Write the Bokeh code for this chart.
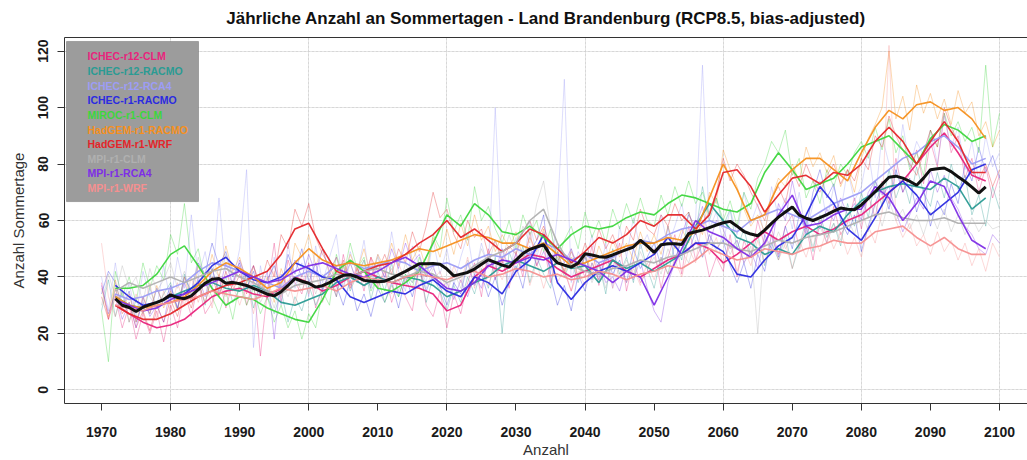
from bokeh.plotting import figure
from bokeh.models import LinearAxis, FixedTicker, Range1d, Grid, BoxAnnotation, Label
from bokeh.embed import file_html
from bokeh.resources import INLINE

TITLE = "Jährliche Anzahl an Sommertagen - Land Brandenburg (RCP8.5, bias-adjusted)"
X_LABEL = "Anzahl"
Y_LABEL = "Anzahl Sommertage"

MODELS = ["ICHEC-r12-CLM", "ICHEC-r12-RACMO", "ICHEC-r12-RCA4", "ICHEC-r1-RACMO",
          "MIROC-r1-CLM", "HadGEM-r1-RACMO", "HadGEM-r1-WRF", "MPI-r1-CLM",
          "MPI-r1-RCA4", "MPI-r1-WRF"]
COLORS = ["#E8247C", "#2B9B93", "#9C9CF5", "#2B2BE0", "#3DD63D",
          "#F5901E", "#E4262A", "#B0B0B0", "#7E2EE6", "#F59090"]

ANNUAL_START = 1970   # yearly values 1970..2100
SMOOTH_START = 1972   # running mean, every 2nd year 1972..2098
SMOOTH_STEP = 2
ENS_START = 1972      # ensemble mean, yearly 1972..2098

XTICKS = list(range(1970, 2101, 10))
YTICKS = [0, 20, 40, 60, 80, 100, 120]
XGRID = list(range(1980, 2101, 20))

# ---------------- yearly values (faint lines) ----------------
annual_ichec_r12_clm = [
    38, 25, 33, 22, 30, 18, 27, 20, 28, 17,
    30, 22, 35, 26, 38, 27, 31, 40, 29, 38,
    44, 30, 39, 12, 35, 52, 31, 46, 38, 34,
    45, 29, 36, 41, 33, 48, 37, 44, 35, 47,
    36, 42, 31, 39, 33, 28, 44, 30, 26, 35,
    22, 34, 27, 38, 45, 33, 50, 39, 47, 36,
    49, 40, 56, 44, 52, 38, 49, 42, 35, 45,
    40, 51, 37, 48, 43, 52, 35, 46, 38, 42,
    50, 36, 47, 55, 41, 58, 46, 52, 40, 47,
    42, 55, 40, 53, 47, 60, 51, 57, 48, 58,
    62, 50, 58, 46, 60, 52, 65, 55, 59, 68,
    57, 69, 61, 74, 66, 82, 70, 77, 85, 73,
    88, 79, 98, 84, 90, 75, 82, 70, 79, 68, 76]
annual_ichec_r12_racmo = [
    28, 39, 26, 35, 24, 32, 27, 36, 29, 34,
    38, 28, 41, 33, 39, 30, 43, 34, 40, 31,
    36, 41, 29, 38, 33, 27, 35, 24, 33, 28,
    37, 30, 36, 40, 33, 44, 35, 41, 46, 32,
    42, 35, 45, 33, 41, 38, 44, 31, 40, 35,
    28, 37, 31, 40, 34, 43, 36, 47, 20, 49,
    42, 51, 38, 47, 41, 36, 49, 40, 46, 38,
    48, 39, 45, 34, 50, 41, 47, 38, 52, 43,
    36, 47, 41, 52, 46, 63, 55, 72, 60, 68,
    58, 64, 50, 57, 47, 55, 44, 52, 46, 55,
    43, 51, 60, 49, 62, 54, 59, 51, 66, 58,
    70, 61, 74, 65, 78, 68, 75, 66, 79, 70,
    65, 77, 68, 80, 71, 76, 62, 69, 58, 72, 64]
annual_ichec_r12_rca4 = [
    40, 28, 45, 30, 38, 26, 42, 33, 29, 44,
    31, 47, 36, 62, 40, 49, 35, 68, 41, 38,
    50, 78, 15, 44, 32, 47, 30, 52, 36, 45,
    33, 51, 38, 47, 55, 36, 49, 41, 53, 37,
    48, 39, 56, 42, 35, 51, 44, 38, 53, 41,
    50, 37, 47, 55, 40, 52, 43, 100, 45, 39,
    54, 42, 60, 47, 56, 41, 62, 110, 38, 49,
    44, 55, 40, 52, 36, 58, 47, 61, 50, 55,
    48, 62, 51, 58, 66, 53, 60, 115, 57, 63,
    52, 64, 55, 70, 59, 66, 54, 72, 61, 68,
    57, 70, 55, 66, 74, 60, 72, 63, 78, 67,
    72, 85, 68, 90, 80, 76, 94, 79, 88, 83,
    92, 80, 97, 86, 93, 78, 88, 74, 90, 79, 84]
annual_ichec_r1_racmo = [
    34, 42, 38, 29, 35, 24, 31, 27, 36, 30,
    37, 29, 40, 35, 45, 41, 52, 44, 49, 40,
    45, 36, 42, 33, 39, 44, 36, 48, 41, 50,
    38, 45, 35, 42, 37, 30, 39, 28, 34, 26,
    36, 31, 38, 29, 40, 33, 43, 35, 41, 37,
    30, 38, 34, 45, 37, 41, 33, 40, 30, 38,
    44, 36, 49, 53, 62, 40, 30, 37, 28, 41,
    35, 45, 39, 48, 41, 46, 38, 50, 43, 47,
    52, 44, 58, 46, 53, 49, 56, 47, 55, 50,
    53, 44, 38, 45, 36, 48, 42, 55, 47, 58,
    50, 62, 57, 70, 78, 68, 73, 60, 55, 62,
    49, 58, 66, 72, 64, 78, 70, 75, 63, 71,
    58, 67, 62, 73, 66, 80, 74, 86, 77, 83, 75]
annual_miroc_r1_clm = [
    28, 10, 42, 33, 40, 31, 45, 36, 44, 39,
    55, 48, 66, 45, 50, 38, 33, 27, 35, 25,
    38, 30, 36, 27, 33, 24, 30, 22, 28, 18,
    27, 22, 35, 30, 48, 40, 52, 43, 47, 35,
    40, 31, 37, 33, 41, 36, 47, 40, 55, 50,
    68, 56, 62, 53, 72, 60, 65, 57, 52, 60,
    50, 62, 55, 60, 49, 57, 45, 53, 58, 50,
    63, 54, 60, 52, 64, 57, 66, 59, 68, 60,
    58, 69, 62, 72, 65, 74, 66, 70, 62, 68,
    60, 67, 58, 70, 64, 75, 80, 88, 84, 92,
    76, 82, 68, 74, 66, 78, 72, 80, 76, 84,
    88, 82, 93, 85, 96, 84, 90, 78, 84, 76,
    92, 86, 98, 90, 95, 88, 93, 84, 115, 86, 98]
annual_hadgem_r1_racmo = [
    36, 26, 39, 28, 34, 24, 33, 27, 37, 29,
    35, 28, 40, 31, 44, 37, 48, 40, 51, 42,
    47, 38, 44, 34, 40, 31, 43, 36, 52, 47,
    55, 44, 50, 41, 47, 39, 48, 42, 50, 40,
    48, 43, 52, 44, 55, 46, 51, 43, 54, 47,
    57, 48, 59, 51, 62, 53, 58, 49, 55, 50,
    56, 47, 54, 49, 57, 45, 50, 41, 47, 40,
    48, 42, 51, 45, 53, 47, 52, 46, 56, 49,
    55, 48, 58, 50, 57, 52, 60, 55, 70, 66,
    85, 78, 72, 64, 58, 62, 56, 68, 75, 72,
    80, 74, 86, 79, 84, 77, 83, 72, 78, 70,
    82, 89, 94, 100, 120, 96, 104, 92, 108, 98,
    105, 96, 103, 94, 106, 98, 102, 90, 95, 86, 92]
annual_hadgem_r1_wrf = [
    33, 25, 36, 27, 31, 22, 28, 21, 30, 24,
    32, 26, 35, 29, 38, 31, 40, 33, 42, 35,
    41, 34, 44, 37, 46, 40, 55, 50, 64, 58,
    66, 54, 48, 44, 38, 46, 36, 43, 39, 47,
    42, 48, 41, 50, 45, 56, 49, 58, 70, 61,
    64, 55, 50, 60, 54, 57, 48, 53, 45, 51,
    48, 56, 60, 53, 58, 51, 47, 42, 49, 44,
    52, 46, 57, 50, 55, 48, 58, 53, 64, 57,
    55, 62, 58, 66, 60, 63, 55, 59, 63, 70,
    82, 74, 80, 76, 70, 65, 60, 68, 72, 66,
    78, 72, 80, 74, 70, 76, 80, 73, 78, 74,
    82, 78, 90, 86, 97, 90, 85, 80, 76, 84,
    92, 86, 100, 93, 88, 82, 78, 74, 80, 72, 78]
annual_mpi_r1_clm = [
    30, 41, 33, 44, 36, 40, 31, 43, 35, 39,
    45, 36, 42, 34, 47, 39, 44, 40, 48, 37,
    43, 35, 39, 31, 36, 29, 38, 33, 40, 35,
    42, 34, 41, 37, 44, 36, 45, 38, 46, 40,
    47, 39, 43, 35, 45, 38, 44, 36, 43, 39,
    34, 42, 36, 46, 41, 50, 44, 53, 46, 55,
    48, 58, 52, 66, 74, 57, 46, 42, 50, 39,
    45, 38, 44, 36, 47, 40, 46, 41, 49, 43,
    47, 41, 50, 44, 49, 45, 53, 47, 55, 49,
    55, 48, 53, 45, 51, 20, 54, 49, 56, 50,
    55, 49, 57, 51, 58, 52, 59, 53, 61, 55,
    64, 56, 66, 58, 67, 60, 64, 57, 62, 55,
    63, 57, 64, 56, 62, 55, 61, 56, 60, 57, 58]
annual_mpi_r1_rca4 = [
    37, 27, 34, 25, 31, 22, 33, 26, 30, 24,
    36, 29, 38, 31, 40, 33, 43, 35, 45, 37,
    46, 39, 44, 35, 42, 18, 41, 36, 46, 40,
    48, 41, 50, 42, 47, 39, 45, 38, 43, 36,
    45, 40, 50, 43, 52, 45, 48, 40, 44, 36,
    38, 32, 39, 33, 41, 36, 47, 42, 50, 43,
    48, 42, 51, 44, 49, 43, 52, 45, 50, 43,
    47, 41, 45, 38, 40, 35, 44, 39, 46, 36,
    28, 24, 38, 45, 55, 62, 58, 65, 52, 60,
    57, 50, 53, 45, 49, 43, 55, 50, 66, 60,
    74, 63, 55, 60, 57, 64, 60, 68, 62, 66,
    60, 70, 74, 69, 72, 63, 56, 62, 68, 64,
    78, 70, 76, 68, 64, 58, 55, 50, 48, 55, 52]
annual_mpi_r1_wrf = [
    52, 33, 26, 36, 24, 34, 27, 38, 25, 35,
    28, 38, 30, 40, 31, 39, 29, 41, 33, 37,
    30, 38, 27, 40, 32, 42, 33, 39, 30, 41,
    34, 42, 31, 40, 35, 44, 36, 41, 38, 45,
    37, 43, 34, 45, 38, 46, 36, 44, 39, 42,
    35, 44, 38, 47, 36, 45, 37, 44, 39, 46,
    40, 48, 37, 45, 36, 44, 38, 43, 35, 42,
    37, 45, 39, 46, 36, 44, 38, 43, 37, 45,
    39, 47, 41, 46, 40, 50, 45, 60, 48, 54,
    44, 52, 42, 50, 44, 53, 45, 55, 46, 52,
    43, 53, 47, 55, 49, 57, 50, 56, 48, 54,
    47, 58, 52, 63, 122, 60, 54, 59, 51, 55,
    48, 56, 49, 53, 46, 52, 44, 50, 42, 52, 47]

# ---------------- running means (bold coloured lines), 1972..2098 step 2 ----------------
smooth_ichec_r12_clm = [30, 27, 24, 22, 23, 25, 29, 33, 35, 36, 34, 33, 36, 40,
                        38, 35, 37, 40, 42, 40, 38, 37, 36, 34, 28, 30, 40, 44, 42,
                        45, 48, 47, 43, 40, 42, 44, 46, 42, 40, 43, 46, 48, 52, 50,
                        45, 48, 52, 56, 53, 56, 58, 55, 57, 60, 62, 66, 70, 74, 80,
                        86, 91, 84, 76, 74]
smooth_ichec_r12_racmo = [33, 30, 29, 31, 33, 35, 37, 38, 36, 35, 37, 35, 31, 30,
                          32, 34, 38, 40, 37, 40, 38, 40, 39, 37, 33, 35, 38, 40, 44,
                          46, 44, 42, 45, 43, 44, 38, 46, 43, 45, 42, 45, 48, 58, 66,
                          60, 54, 52, 48, 50, 48, 55, 58, 56, 62, 67, 70, 72, 73, 72,
                          71, 75, 72, 64, 68]
smooth_ichec_r12_rca4 = [34, 32, 33, 35, 36, 38, 42, 45, 44, 42, 40, 38, 36, 40,
                         42, 40, 44, 45, 43, 44, 46, 45, 42, 44, 45, 43, 46, 48, 47,
                         50, 48, 52, 50, 46, 48, 45, 47, 50, 53, 52, 55, 57, 58, 60,
                         58, 56, 60, 62, 64, 62, 60, 63, 66, 68, 70, 74, 78, 82, 84,
                         88, 90, 86, 80, 82]
smooth_ichec_r1_racmo = [37, 33, 30, 31, 33, 34, 38, 44, 47, 42, 39, 38, 40, 45,
                         43, 40, 39, 33, 31, 33, 35, 34, 37, 39, 35, 33, 40, 38, 34,
                         42, 46, 55, 38, 32, 38, 42, 44, 42, 45, 48, 54, 48, 52, 52,
                         49, 41, 40, 46, 51, 54, 62, 72, 66, 57, 53, 61, 70, 74, 69,
                         62, 66, 70, 78, 80]
smooth_miroc_r1_clm = [36, 36, 37, 41, 48, 51, 44, 36, 30, 33, 32, 29, 27, 25,
                       24, 32, 42, 46, 42, 36, 35, 38, 42, 52, 62, 58, 66, 62, 56,
                       55, 58, 54, 50, 55, 58, 57, 58, 61, 63, 62, 66, 69, 68, 66,
                       64, 63, 66, 77, 84, 78, 71, 73, 75, 80, 86, 88, 90, 85, 80,
                       89, 94, 92, 88, 90]
smooth_hadgem_r1_racmo = [33, 30, 29, 30, 31, 33, 37, 42, 45, 43, 40, 36, 38, 45,
                          50, 46, 44, 45, 44, 45, 46, 48, 50, 49, 51, 53, 55, 54, 52,
                          52, 50, 52, 48, 44, 45, 47, 49, 51, 52, 52, 54, 53, 56, 68,
                          80, 71, 60, 62, 73, 78, 82, 82, 78, 74, 84, 93, 99, 96, 101,
                          102, 99, 100, 96, 89]
smooth_hadgem_r1_wrf = [30, 27, 25, 25, 27, 30, 33, 35, 37, 38, 40, 42, 48, 57,
                        59, 50, 42, 40, 42, 44, 45, 48, 52, 55, 60, 54, 57, 53, 49,
                        52, 57, 55, 50, 45, 49, 54, 52, 55, 60, 58, 62, 62, 57, 62,
                        77, 78, 72, 63, 69, 75, 76, 73, 77, 76, 80, 88, 93, 88, 80,
                        88, 95, 88, 77, 77]
smooth_mpi_r1_clm = [35, 38, 36, 38, 40, 38, 40, 42, 43, 40, 38, 35, 34, 37,
                     38, 39, 41, 40, 42, 43, 41, 40, 42, 41, 38, 40, 44, 47, 49,
                     52, 60, 64, 52, 44, 42, 41, 43, 44, 46, 45, 47, 48, 50, 52,
                     52, 50, 49, 51, 53, 52, 54, 55, 56, 58, 60, 62, 63, 61, 60,
                     60, 61, 59, 59, 59]
smooth_mpi_r1_rca4 = [32, 30, 28, 29, 32, 34, 36, 38, 40, 42, 40, 38, 39, 42,
                      44, 45, 43, 41, 40, 42, 45, 47, 44, 40, 36, 35, 38, 44, 46,
                      45, 47, 46, 48, 46, 44, 42, 38, 42, 40, 30, 40, 50, 60, 56,
                      54, 50, 47, 52, 62, 69, 58, 59, 62, 64, 64, 72, 68, 60, 66,
                      74, 72, 62, 53, 50]
smooth_mpi_r1_wrf = [30, 29, 28, 30, 31, 32, 33, 35, 34, 33, 32, 34, 36, 35,
                     36, 37, 35, 38, 40, 39, 38, 40, 41, 40, 39, 41, 42, 40, 41,
                     43, 42, 40, 41, 39, 40, 42, 41, 39, 41, 42, 44, 43, 46, 50,
                     48, 46, 47, 50, 49, 48, 50, 51, 53, 52, 52, 56, 57, 58, 54,
                     51, 54, 50, 48, 48]

# ---------------- ensemble mean (black), yearly 1972..2098 ----------------
ensemble_mean = [
    32.3, 30.0, 29.2, 27.8, 29.3, 30.2, 31.0, 32.0,
    33.7, 32.7, 32.3, 33.3, 35.5, 37.8, 39.2, 39.5, 37.8, 38.1,
    37.6, 37.0, 36.0, 35.0, 33.9, 33.3, 34.8, 37.0, 39.4, 38.5,
    37.8, 36.4, 36.9, 38.0, 39.4, 40.6, 40.8, 40.0, 38.8, 38.5,
    38.3, 38.5, 39.5, 40.8, 42.0, 43.3, 44.7, 44.7, 44.8, 44.5,
    42.8, 40.4, 41.0, 41.6, 42.8, 44.5, 46.1, 45.2, 44.2, 43.5,
    46.0, 48.3, 49.8, 50.6, 51.4, 47.5, 45.0, 44.2, 43.5, 44.9,
    48.2, 47.8, 47.2, 47.0, 47.8, 48.8, 49.7, 50.6, 53.0, 51.0,
    48.7, 51.4, 51.8, 51.8, 51.5, 55.4, 56.0, 56.6, 57.5, 58.4,
    59.2, 59.7, 58.0, 56.1, 55.2, 54.6, 56.6, 59.0, 61.2, 63.0,
    64.8, 61.9, 60.8, 60.0, 61.0, 62.1, 63.3, 64.4, 64.0, 63.8,
    65.5, 67.8, 70.2, 72.8, 75.3, 75.7, 75.0, 73.9, 72.5, 75.0,
    78.0, 78.3, 78.6, 77.3, 75.5, 73.8, 71.8, 69.7, 71.9]

ANNUAL = [annual_ichec_r12_clm, annual_ichec_r12_racmo, annual_ichec_r12_rca4,
          annual_ichec_r1_racmo, annual_miroc_r1_clm, annual_hadgem_r1_racmo,
          annual_hadgem_r1_wrf, annual_mpi_r1_clm, annual_mpi_r1_rca4, annual_mpi_r1_wrf]
SMOOTH = [smooth_ichec_r12_clm, smooth_ichec_r12_racmo, smooth_ichec_r12_rca4,
          smooth_ichec_r1_racmo, smooth_miroc_r1_clm, smooth_hadgem_r1_racmo,
          smooth_hadgem_r1_wrf, smooth_mpi_r1_clm, smooth_mpi_r1_rca4, smooth_mpi_r1_wrf]

FONT = "Liberation Sans"
TEXT_DARK = "#1a1a1a"

p = figure(width=1027, height=460,
           x_range=Range1d(1964.64, 2104.05), y_range=Range1d(-4.8, 124.8),
           output_backend="svg", toolbar_location=None,
           x_axis_location=None, y_axis_location=None,
           min_border_left=64, min_border_right=0, min_border_top=37, min_border_bottom=57)
p.outline_line_color = None
p.background_fill_color = "white"
p.border_fill_color = "white"

# grids (dotted)
p.add_layout(Grid(dimension=0, ticker=FixedTicker(ticks=XGRID),
                  grid_line_color="#c8c8c8", grid_line_dash="1 3", grid_line_width=1))
p.add_layout(Grid(dimension=1, ticker=FixedTicker(ticks=YTICKS),
                  grid_line_color="#c8c8c8", grid_line_dash="1 3", grid_line_width=1))

# faint yearly lines
for vals, col in zip(ANNUAL, COLORS):
    yrs = list(range(ANNUAL_START, ANNUAL_START + len(vals)))
    p.line(yrs, vals, line_color=col, line_alpha=0.34, line_width=1)

# running means
for vals, col in zip(SMOOTH, COLORS):
    yrs = list(range(SMOOTH_START, SMOOTH_START + SMOOTH_STEP * len(vals), SMOOTH_STEP))
    p.line(yrs, vals, line_color=col, line_alpha=0.95, line_width=1.6)

# ensemble mean
ens_years = list(range(ENS_START, ENS_START + len(ensemble_mean)))
p.line(ens_years, ensemble_mean, line_color="#111111", line_width=3)

# axes
xaxis = LinearAxis(ticker=FixedTicker(ticks=XTICKS), axis_label=X_LABEL)
xaxis.axis_line_color = "#333333"
xaxis.major_tick_line_color = "#333333"
xaxis.major_tick_out = 7
xaxis.major_tick_in = 0
xaxis.minor_tick_out = 0
xaxis.major_label_standoff = 16
xaxis.major_label_text_font = FONT
xaxis.major_label_text_font_style = "bold"
xaxis.major_label_text_font_size = "14px"
xaxis.major_label_text_color = TEXT_DARK
xaxis.axis_label_text_font = FONT
xaxis.axis_label_text_font_style = "normal"
xaxis.axis_label_text_font_size = "15px"
xaxis.axis_label_text_color = "#333333"
xaxis.axis_label_standoff = 1
p.add_layout(xaxis, "below")

yaxis = LinearAxis(ticker=FixedTicker(ticks=YTICKS), axis_label=Y_LABEL)
yaxis.axis_line_color = "#333333"
yaxis.major_tick_line_color = "#333333"
yaxis.major_tick_out = 7
yaxis.major_tick_in = 0
yaxis.minor_tick_out = 0
yaxis.major_label_orientation = "parallel"
yaxis.major_label_standoff = 9
yaxis.major_label_text_font = FONT
yaxis.major_label_text_font_style = "bold"
yaxis.major_label_text_font_size = "14px"
yaxis.major_label_text_color = TEXT_DARK
yaxis.axis_label_text_font = FONT
yaxis.axis_label_text_font_style = "normal"
yaxis.axis_label_text_font_size = "15px"
yaxis.axis_label_text_color = "#333333"
yaxis.axis_label_standoff = 9
p.add_layout(yaxis, "left")

top = LinearAxis(ticker=FixedTicker(ticks=[]), axis_label=TITLE)
top.axis_line_color = "#333333"
top.major_tick_out = 0
top.major_tick_in = 0
top.minor_tick_out = 0
top.major_label_text_font_size = "0px"
top.axis_label_text_font = FONT
top.axis_label_text_font_style = "bold"
top.axis_label_text_font_size = "17px"
top.axis_label_text_color = "#111111"
top.axis_label_standoff = 10
p.add_layout(top, "above")

# legend box (top-left, like R legend)
LEG_LEFT, LEG_RIGHT, LEG_TOP, LEG_BOTTOM = 1964.93, 1984.04, 123.4, 66.7
LEG_TEXT_X = 1967.97
LEG_ROW0 = 118.1
LEG_STEP = 5.18
p.add_layout(BoxAnnotation(left=LEG_LEFT, right=LEG_RIGHT, top=LEG_TOP, bottom=LEG_BOTTOM,
                           fill_color="#9c9c9c", fill_alpha=1.0,
                           line_color="#333333", line_width=1))
for i, (name, col) in enumerate(zip(MODELS, COLORS)):
    p.add_layout(Label(x=LEG_TEXT_X, y=LEG_ROW0 - i * LEG_STEP, text=name,
                       text_color=col, text_font=FONT, text_font_style="bold",
                       text_font_size="10.5px", text_baseline="middle", text_align="left"))

open("out.html", "w").write(file_html(p, INLINE))
